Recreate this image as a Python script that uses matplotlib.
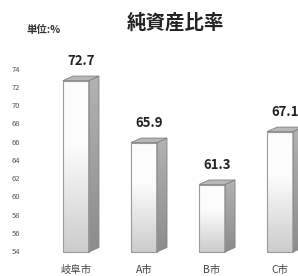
import numpy as np
import matplotlib
matplotlib.use("Agg")
import matplotlib.pyplot as plt
from matplotlib.patches import Polygon, Rectangle

plt.rcParams['font.family'] = ['Noto Sans CJK JP', 'DejaVu Sans']

# data
cities = ["岐阜市", "A市", "B市", "C市"]
ratio = [72.7, 65.9, 61.3, 67.1]
yticks = list(range(54, 75, 2))

base = 53.9
w = 0.38      # front face width
dx = 0.15     # depth to the right
dy = 0.5      # depth upward

fig = plt.figure(figsize=(2.98, 2.76), dpi=100)
ax = fig.add_axes([0.10, 0.0507, 0.90, 0.786])
ax.set_xlim(-0.676, 3.265)
ax.set_ylim(52.8, 76.6)

# vertical grey gradient: light grey at bottom, near white at top
g = np.linspace(0, 1, 200)
shade = 0.80 + 0.19 * np.clip(g * 1.6, 0, 1)
grad = np.dstack([shade, shade, shade]).reshape(-1, 1, 3)
side_shade = 0.55 + 0.15 * g
side_grad = np.dstack([side_shade, side_shade, side_shade]).reshape(-1, 1, 3)

for i, v in enumerate(ratio):
    x0, x1 = i - w / 2, i + w / 2
    # front face
    front = Rectangle((x0, base), w, v - base, facecolor="none",
                      edgecolor="#9a9a9a", lw=0.8, zorder=3)
    ax.add_patch(front)
    im = ax.imshow(grad, extent=[x0, x1, base, v], origin="lower",
                   aspect="auto", zorder=2)
    im.set_clip_path(front)
    # side face
    side = Polygon([(x1, base), (x1, v), (x1 + dx, v + dy), (x1 + dx, base + dy)],
                   closed=True, facecolor="none", edgecolor="#808080", lw=0.6, zorder=3)
    ax.add_patch(side)
    ims = ax.imshow(side_grad, extent=[x1, x1 + dx, base, v + dy], origin="lower",
                    aspect="auto", zorder=2)
    ims.set_clip_path(side)
    # top face
    top = Polygon([(x0, v), (x1, v), (x1 + dx, v + dy), (x0 + dx, v + dy)],
                  closed=True, facecolor="#b8b8b8", edgecolor="#808080", lw=0.6, zorder=3)
    ax.add_patch(top)
    ax.text(i + dx / 2, v + dy + 0.9, f"{v:.1f}", ha="center", va="bottom",
            fontsize=9.5, fontweight="bold", color="#222222")

ax.set_xticks(range(len(cities)))
ax.set_xticklabels(cities, fontsize=7.5, color="#444444")
ax.set_yticks(yticks)
ax.set_yticklabels([str(t) for t in yticks], fontsize=5.5, color="#555555")
ax.tick_params(length=0, pad=2)
ax.tick_params(axis="y", pad=7)
for s in ax.spines.values():
    s.set_visible(False)

fig.text(0.59, 0.915, "純資産比率", ha="center", va="center",
         fontsize=14, fontweight="bold", color="#222222")
fig.text(0.145, 0.89, "単位:%", ha="center", va="center",
         fontsize=7.5, fontweight="bold", color="#333333")

fig.savefig("out.png", dpi=100)
